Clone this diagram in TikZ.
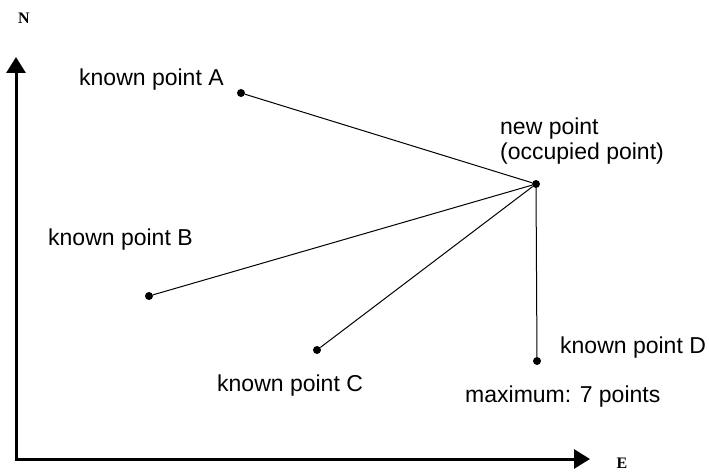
\documentclass[tikz,border=0pt]{standalone}
\usepackage{fontspec}
\setmainfont{Liberation Sans}
\newfontfamily\axisfont{Liberation Serif}
\usetikzlibrary{arrows.meta,positioning}
\tikzset{
  stn/.style={circle,fill=black,inner sep=0pt,minimum size=8pt},
  lbl/.style={font=\fontsize{23}{26}\selectfont,inner sep=0pt,anchor=base west},
  axlbl/.style={font=\axisfont\bfseries\fontsize{16}{16}\selectfont,inner sep=0pt},
  axis/.style={line width=3pt,line join=miter,{Triangle[width=19pt,length=16pt]}-{Triangle[width=19pt,length=16pt]}},
  ray/.style={line width=1pt}
}

\begin{document}
\begin{tikzpicture}[x=1pt,y=-1pt]
  \useasboundingbox (0,0) rectangle (709,473);
  % Axes
  \coordinate (O) at (16,459);
  \coordinate (Ntip) at (16,57);
  \coordinate (Etip) at (590,459);
  \draw[axis] (Ntip) -- (O) -- (Etip);
  \node[axlbl] (N) at (24,18) {N};
  \node[axlbl] (E) at (622,463) {E};

  % Occupied point and known points
  \node[stn] (P) at (536,184) {};
  \node[stn] (A) at (241,93) {};
  \node[stn] (B) at (149,296) {};
  \node[stn] (C) at (317,350) {};
  \node[stn] (D) at (537,361) {};

  % Rays to known points
  \foreach \k in {A,B,C,D}
    \draw[ray] (P) -- (\k);

  % Labels
  \node[lbl] (labA) at (79,86) {known point A};
  \node[lbl] (labB) at (48,245) {known point B};
  \node[lbl] (labC) at (217,391) {known point C};
  \node[lbl] (labD) at (560,353) {known point D};
  \node[lbl] (labP) at (500,135) {new point};
  \node[lbl] (labP2) at (500,160) {(occupied point)};
  \node[lbl] (labM) at (465,402) {maximum: 7 points};
\end{tikzpicture}
\end{document}
